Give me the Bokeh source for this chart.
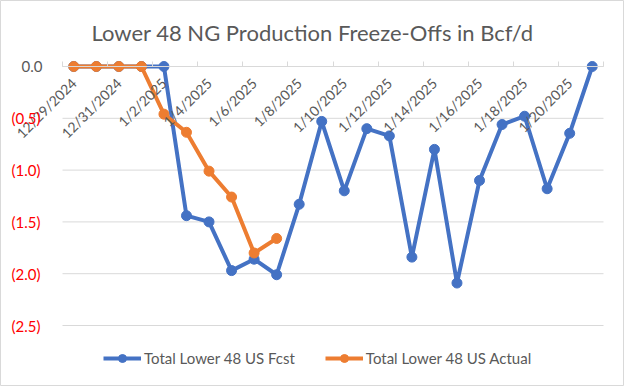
import math
from bokeh.plotting import figure
from bokeh.models import (ColumnDataSource, FixedTicker, Legend, LegendItem, Label)
from bokeh.core.properties import value
from bokeh.embed import file_html
from bokeh.resources import INLINE

# ---- data ----
categories = ["12/29/2024", "12/30/2024", "12/31/2024", "1/1/2025", "1/2/2025", "1/3/2025",
              "1/4/2025", "1/5/2025", "1/6/2025", "1/7/2025", "1/8/2025", "1/9/2025",
              "1/10/2025", "1/11/2025", "1/12/2025", "1/13/2025", "1/14/2025", "1/15/2025",
              "1/16/2025", "1/17/2025", "1/18/2025", "1/19/2025", "1/20/2025", "1/21/2025"]
fcst = [0.0, 0.0, 0.0, 0.0, 0.0, -1.44, -1.50, -1.97, -1.86, -2.01, -1.33, -0.53,
        -1.20, -0.60, -0.67, -1.84, -0.80, -2.09, -1.10, -0.56, -0.48, -1.18, -0.645, 0.0]
actual = [0.0, 0.0, 0.0, 0.0, -0.46, -0.635, -1.01, -1.26, -1.80, -1.66]
y_ticks = [-2.5, -2.0, -1.5, -1.0, -0.5, 0.0]
y_tick_labels = ["(2.5)", "(2.0)", "(1.5)", "(1.0)", "(0.5)", "0.0"]
title_text = "Lower 48 NG Production Freeze-Offs in Bcf/d"
series_names = ["Total Lower 48 US Fcst", "Total Lower 48 US Actual"]

# ---- layout (pixels) ----
W, H = 624, 386
PL, PR, PT, PB = 62, 603, 66, 325   # plot-area edges

BLUE = "#4472C4"
ORANGE = "#ED7D31"
GRAY = "#595959"
GRID = "#D9D9D9"
FONT = "Lato"

n = len(categories)
x_lo, x_hi = -0.5, n - 0.5
y_lo, y_hi = y_ticks[0], y_ticks[-1]
sx = (PR - PL) / (x_hi - x_lo)
sy = (PB - PT) / (y_hi - y_lo)
x_range = (x_lo - PL / sx, x_hi + (W - PR) / sx)
y_range = (y_lo - (H - PB) / sy, y_hi + PT / sy)

idx = list(range(n))
src_f = ColumnDataSource(dict(x=idx, y=fcst))
src_a = ColumnDataSource(dict(x=idx[:len(actual)], y=actual))

p = figure(width=W, height=H, output_backend="svg", toolbar_location=None,
           x_range=x_range, y_range=y_range, min_border=0)
p.outline_line_color = GRID
p.outline_line_width = 1
p.background_fill_color = "white"
p.border_fill_color = "white"

# y axis at left edge of plot area
p.yaxis.fixed_location = x_lo
p.yaxis.bounds = (y_lo, y_hi)
p.yaxis.ticker = FixedTicker(ticks=y_ticks)
p.yaxis.major_label_overrides = {t: (l if t != 0.0 else "") for t, l in zip(y_ticks, y_tick_labels)}
p.yaxis.major_label_text_color = "#FF0000"
p.yaxis.major_label_text_font = FONT
p.yaxis.major_label_text_font_size = "15px"
p.yaxis.axis_line_color = None
p.yaxis.major_tick_line_color = None
p.yaxis.minor_tick_line_color = None
p.yaxis.major_label_standoff = 16

p.xgrid.grid_line_color = None
p.ygrid.grid_line_color = None
# horizontal gridlines across the plot area only
p.segment(x0=[x_lo] * len(y_ticks), x1=[x_hi] * len(y_ticks), y0=y_ticks, y1=y_ticks,
          line_color=GRID, line_width=1)

# x axis at y = 0
even = [i for i in idx if i % 2 == 0]
bounds = [i - 0.5 for i in idx if i % 2 == 0] + [x_hi]
p.xaxis.fixed_location = 0
p.xaxis.bounds = (x_lo, x_hi)
p.xaxis.ticker = FixedTicker(ticks=even, minor_ticks=bounds)
p.xaxis.major_label_overrides = {i: categories[i] for i in even}
p.xaxis.major_label_orientation = math.pi / 4
p.xaxis.major_label_text_font = FONT
p.xaxis.major_label_text_font_size = "14px"
p.xaxis.major_label_text_color = GRAY
p.xaxis.axis_line_color = GRID
p.xaxis.major_tick_line_color = None
p.xaxis.minor_tick_line_color = GRID
p.xaxis.minor_tick_in = 5
p.xaxis.minor_tick_out = 0
p.xaxis.major_label_standoff = 8

# "0.0" label (gray)
p.text(x=[x_lo], y=[0.0], text=[y_tick_labels[-1]], x_offset=-20, text_align="right",
       text_baseline="middle", text_font=value(FONT), text_font_size="15px", text_color=GRAY)

lf = p.line("x", "y", source=src_f, line_color=BLUE, line_width=4)
cf = p.scatter("x", "y", source=src_f, size=10, fill_color=BLUE, line_color=BLUE)
la = p.line("x", "y", source=src_a, line_color=ORANGE, line_width=4)
ca = p.scatter("x", "y", source=src_a, size=10, fill_color=ORANGE, line_color=ORANGE)

legend = Legend(items=[LegendItem(label=series_names[0], renderers=[lf, cf]),
                       LegendItem(label=series_names[1], renderers=[la, ca])],
                orientation="horizontal", location=(103, 18),
                label_text_font=FONT, label_text_font_size="15px", label_text_color=GRAY,
                glyph_width=38, glyph_height=20, label_standoff=3, spacing=30,
                padding=0, margin=0, border_line_color=None, background_fill_alpha=0)
p.add_layout(legend, "center")

title = Label(x=312, y=H - 32, x_units="screen", y_units="screen", text=title_text,
              text_align="center", text_baseline="middle", text_font=FONT,
              text_font_size="22px", text_color=GRAY)
p.add_layout(title)

open("out.html", "w").write(file_html(p, INLINE))
